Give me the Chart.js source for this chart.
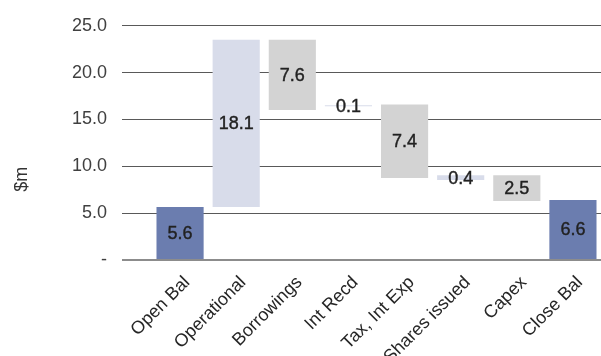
<!DOCTYPE html>
<html>
<head>
<meta charset="utf-8">
<script src="https://cdn.jsdelivr.net/npm/chart.js@4.4.1/dist/chart.umd.min.js"></script>
<style>
  html, body { margin: 0; padding: 0; background: #fff; }
  canvas { display: block; }
</style>
</head>
<body>
<canvas id="cashChart" width="601" height="356"></canvas>
<script>
// Cash flow bridge ($m)
const categories = ['Open Bal', 'Operational', 'Borrowings', 'Int Recd', 'Tax, Int Exp', 'Shares issued', 'Capex', 'Close Bal'];
const barFrom = [0, 5.65, 16.0, 16.4, 8.75, 8.55, 6.3, 0];
const barTo = [5.65, 23.5, 23.5, 16.52, 16.6, 9.05, 9.05, 6.4];
const amounts = [5.6, 18.1, 7.6, 0.1, 7.4, 0.4, 2.5, 6.6];
const kinds = ['total', 'up', 'down', 'up', 'down', 'up', 'down', 'total'];
const yTicks = [0, 5, 10, 15, 20, 25];

const kindColors = {
    total: '#6b7daf',
    up: '#d8dcea',
    down: '#d3d3d3'
};

const FONT = '"Liberation Sans", Arial, Helvetica, sans-serif';

// draws the amount in the middle of each bar, plus the rotated axis title
const labelPlugin = {
    id: 'barLabels',
    afterDatasetsDraw(chart) {
        const ctx = chart.ctx;
        const meta = chart.getDatasetMeta(0);
        ctx.save();
        ctx.font = '18px ' + FONT;
        ctx.fillStyle = '#222';
        ctx.strokeStyle = '#222';
        ctx.lineWidth = 0.4;
        ctx.textAlign = 'center';
        ctx.textBaseline = 'middle';
        meta.data.forEach((bar, i) => {
            const mid = (bar.y + bar.base) / 2;
            const txt = amounts[i].toFixed(1);
            ctx.fillText(txt, bar.x, mid + 1);
            ctx.strokeText(txt, bar.x, mid + 1);
        });
        ctx.restore();
    },
    afterDraw(chart) {
        const ctx = chart.ctx;
        const area = chart.chartArea;
        ctx.save();
        ctx.font = '18px ' + FONT;
        ctx.fillStyle = '#333';
        ctx.textAlign = 'center';
        ctx.textBaseline = 'middle';
        ctx.translate(22, area.top + (area.bottom - area.top) * 0.655);
        ctx.rotate(-Math.PI / 2);
        ctx.fillText('$m', 0, 0);
        ctx.restore();
    }
};

new Chart(document.getElementById('cashChart'), {
    type: 'bar',
    data: {
        labels: categories,
        datasets: [{
            data: categories.map((c, i) => [barFrom[i], barTo[i]]),
            backgroundColor: kinds.map(k => kindColors[k]),
            borderWidth: 0,
            borderSkipped: false,
            categoryPercentage: 1,
            barPercentage: 0.84
        }]
    },
    options: {
        responsive: false,
        animation: false,
        layout: {
            padding: { top: 23, right: 0, left: 0, bottom: 0 }
        },
        scales: {
            x: {
                grid: { display: false, drawTicks: false },
                border: { display: false },
                ticks: {
                    autoSkip: false,
                    minRotation: 45,
                    maxRotation: 45,
                    padding: 12,
                    labelOffset: 7,
                    color: '#262626',
                    font: { family: FONT, size: 18 }
                },
                afterFit(scale) {
                    scale.height = 96;
                    scale.paddingLeft = 0;
                    scale.paddingRight = 0;
                }
            },
            y: {
                min: 0,
                max: 25,
                afterBuildTicks(scale) {
                    scale.ticks = yTicks.map(v => ({ value: v }));
                },
                grid: {
                    color: ctx => (ctx.tick && ctx.tick.value === 0) ? '#8c8c8c' : '#595959',
                    lineWidth: ctx => (ctx.tick && ctx.tick.value === 0) ? 2 : 1,
                    tickLength: 30,
                    drawTicks: true
                },
                border: { display: false },
                ticks: {
                    padding: 15,
                    color: '#404040',
                    font: { family: FONT, size: 18 },
                    callback: v => v === 0 ? '-' : v.toFixed(1)
                },
                afterFit(scale) {
                    scale.width = 152;
                }
            }
        },
        plugins: {
            legend: { display: false },
            tooltip: { enabled: false }
        }
    },
    plugins: [labelPlugin]
});
</script>
</body>
</html>
